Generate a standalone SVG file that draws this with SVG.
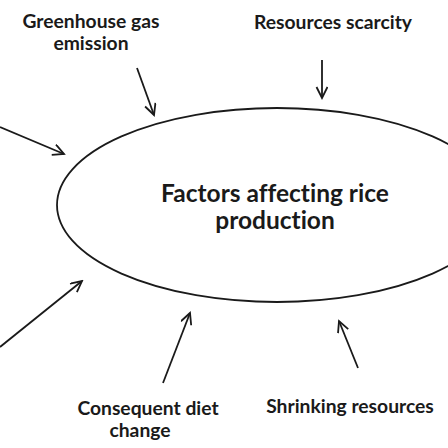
<svg xmlns="http://www.w3.org/2000/svg" width="448" height="448" viewBox="0 0 448 448">
<style>
.lbl{font-family:Lato,"Open Sans","DejaVu Sans",sans-serif;font-weight:bold;fill:#1a1a1a;text-anchor:middle;font-variant-ligatures:none}
.s{font-size:19.3px}
.t{font-size:24.5px}
.c{stroke:#1a1a1a;stroke-width:1.8;fill:none}
</style>
<defs>
<marker id="ah" markerWidth="14" markerHeight="14" refX="12" refY="6" orient="auto" markerUnits="userSpaceOnUse">
<path d="M1,0.5 L12,6 L1,11.5" fill="none" stroke="#1a1a1a" stroke-width="1.8" stroke-linejoin="miter"/>
</marker>
</defs>
<rect width="448" height="448" fill="#fff"/>
<g id="center">
<ellipse cx="277" cy="205" rx="220" ry="97" class="c"/>
<text class="lbl t" x="275" y="202">Factors affecting rice</text>
<text class="lbl t" x="275" y="229">production</text>
</g>
<g id="greenhouse">
<text class="lbl s" x="91" y="28">Greenhouse gas</text>
<text class="lbl s" x="91" y="50">emission</text>
</g>
<g id="scarcity">
<text class="lbl s" x="333" y="29">Resources scarcity</text>
</g>
<g id="diet">
<text class="lbl s" x="148" y="415">Consequent diet</text>
<text class="lbl s" x="140" y="437">change</text>
</g>
<g id="shrinking">
<text class="lbl s" x="350" y="413">Shrinking resources</text>
</g>
<g id="connectors">
<line class="c" x1="137" y1="68" x2="154" y2="115" marker-end="url(#ah)"/>
<line class="c" x1="0" y1="127" x2="64" y2="154" marker-end="url(#ah)"/>
<line class="c" x1="322" y1="60" x2="322" y2="98" marker-end="url(#ah)"/>
<line class="c" x1="0" y1="347" x2="82" y2="281" marker-end="url(#ah)"/>
<line class="c" x1="163" y1="383" x2="190" y2="313" marker-end="url(#ah)"/>
<line class="c" x1="358" y1="368" x2="339" y2="321" marker-end="url(#ah)"/>
</g>
</svg>
